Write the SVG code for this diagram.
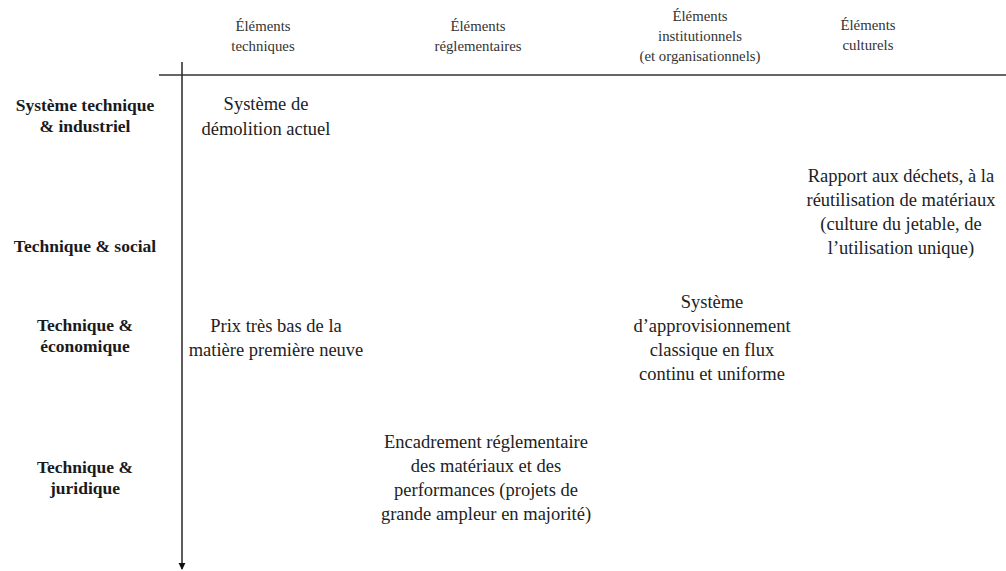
<svg xmlns="http://www.w3.org/2000/svg" width="1006" height="571" viewBox="0 0 1006 571">
  <style>
    .head { font-family: "Liberation Serif", "DejaVu Serif", serif; font-size: 14.8px; fill: #333; text-anchor: middle; }
    .row { font-family: "Liberation Serif", "DejaVu Serif", serif; font-size: 17.5px; font-weight: bold; fill: #1a1a1a; text-anchor: middle; }
    .cell { font-family: "Liberation Serif", "DejaVu Serif", serif; font-size: 18.5px; fill: #222; text-anchor: middle; }
    .axis { stroke: #333; stroke-width: 1.6; fill: none; }
  </style>
  <defs>
    <marker id="arrow" viewBox="0 0 8 8" refX="7" refY="4" markerWidth="4.5" markerHeight="4.5" orient="auto" markerUnits="strokeWidth">
      <path d="M0,0 L8,4 L0,8 Z" fill="#111"/>
    </marker>
  </defs>
  <rect width="1006" height="571" fill="#fff"/>

  <!-- axes -->
  <g id="connectors">
    <line class="axis" x1="159" y1="75" x2="1006" y2="75"/>
    <line class="axis" x1="182" y1="62" x2="182" y2="569" marker-end="url(#arrow)"/>
  </g>

  <!-- column headings -->
  <g id="col-techniques">
    <text class="head" x="263" y="31">Éléments</text>
    <text class="head" x="263" y="51">techniques</text>
  </g>
  <g id="col-reglementaires">
    <text class="head" x="478" y="31">Éléments</text>
    <text class="head" x="478" y="51">réglementaires</text>
  </g>
  <g id="col-institutionnels">
    <text class="head" x="700" y="21">Éléments</text>
    <text class="head" x="700" y="41">institutionnels</text>
    <text class="head" x="700" y="61">(et organisationnels)</text>
  </g>
  <g id="col-culturels">
    <text class="head" x="868" y="30">Éléments</text>
    <text class="head" x="868" y="50">culturels</text>
  </g>

  <!-- row headings -->
  <g id="row-industriel">
    <text class="row" x="85" y="111">Système technique</text>
    <text class="row" x="85" y="132">&amp; industriel</text>
  </g>
  <g id="row-social">
    <text class="row" x="85" y="252">Technique &amp; social</text>
  </g>
  <g id="row-economique">
    <text class="row" x="85" y="331">Technique &amp;</text>
    <text class="row" x="85" y="352">économique</text>
  </g>
  <g id="row-juridique">
    <text class="row" x="85" y="473">Technique &amp;</text>
    <text class="row" x="85" y="494">juridique</text>
  </g>

  <!-- cells -->
  <g id="cell-demolition">
    <text class="cell" x="266" y="110">Système de</text>
    <text class="cell" x="266" y="135">démolition actuel</text>
  </g>
  <g id="cell-dechets">
    <text class="cell" x="901" y="182">Rapport aux déchets, à la</text>
    <text class="cell" x="901" y="206">réutilisation de matériaux</text>
    <text class="cell" x="901" y="230">(culture du jetable, de</text>
    <text class="cell" x="901" y="254">l’utilisation unique)</text>
  </g>
  <g id="cell-prix">
    <text class="cell" x="276" y="332">Prix très bas de la</text>
    <text class="cell" x="276" y="356">matière première neuve</text>
  </g>
  <g id="cell-approvisionnement">
    <text class="cell" x="712" y="308">Système</text>
    <text class="cell" x="712" y="332">d’approvisionnement</text>
    <text class="cell" x="712" y="356">classique en flux</text>
    <text class="cell" x="712" y="380">continu et uniforme</text>
  </g>
  <g id="cell-encadrement">
    <text class="cell" x="486" y="448">Encadrement réglementaire</text>
    <text class="cell" x="486" y="472">des matériaux et des</text>
    <text class="cell" x="486" y="496">performances (projets de</text>
    <text class="cell" x="486" y="520">grande ampleur en majorité)</text>
  </g>
</svg>
